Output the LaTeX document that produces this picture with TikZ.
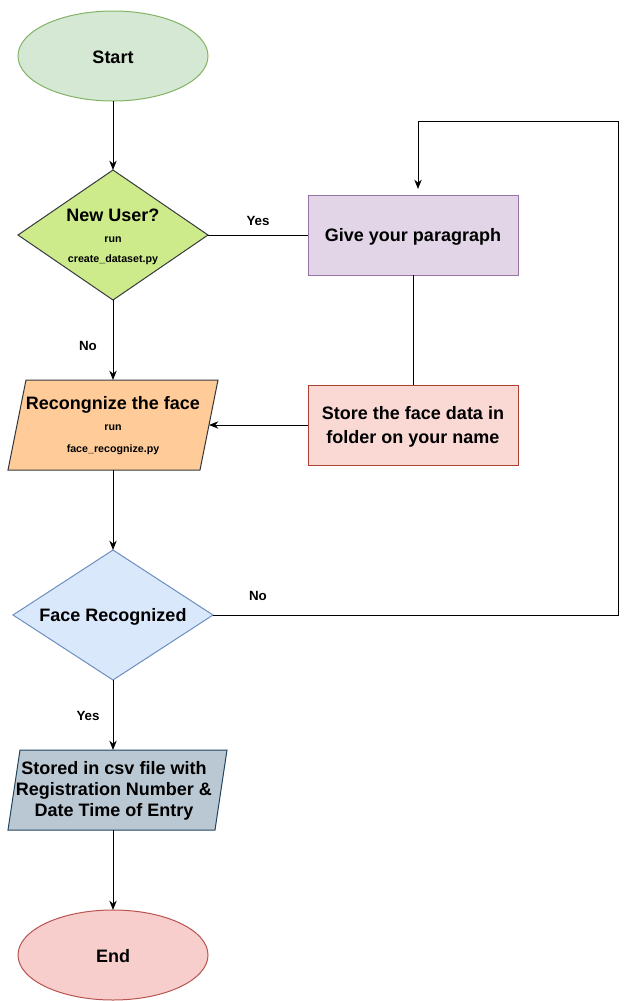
\documentclass[tikz,border=0pt]{standalone}
\usepackage{fontspec}
\setmainfont{Liberation Sans}
\usetikzlibrary{shapes.geometric,arrows.meta}
\definecolor{startF}{HTML}{D5E8D4}\definecolor{startS}{HTML}{82B366}
\definecolor{limeF}{HTML}{CDEB8B}\definecolor{grayS}{HTML}{36393D}
\definecolor{purpF}{HTML}{E1D5E7}\definecolor{purpS}{HTML}{9673A6}
\definecolor{redF}{HTML}{FAD9D5}\definecolor{redS}{HTML}{AE4132}
\definecolor{orangeF}{HTML}{FFCC99}
\definecolor{blueF}{HTML}{DAE8FC}\definecolor{blueS}{HTML}{6C8EBF}
\definecolor{slateF}{HTML}{BAC8D3}\definecolor{slateS}{HTML}{23445D}
\definecolor{endF}{HTML}{F8CECC}\definecolor{endS}{HTML}{B85450}
\begin{document}
\begin{tikzpicture}[x=0.75pt,y=-0.75pt,line width=0.75pt,
  conn/.style={draw=black,line width=0.75pt},
  arr/.style={conn,-{Stealth[length=7pt,width=5.5pt]}},
  big/.style={font=\fontsize{13.5}{17.5}\selectfont\bfseries,align=center},
  bigtight/.style={font=\fontsize{13.5}{15.5}\selectfont\bfseries,align=center},
  small/.style={font=\fontsize{8}{10}\selectfont\bfseries},
  lbl/.style={font=\fontsize{10}{12}\selectfont\bfseries},
  blank/.style={inner sep=0pt,outer sep=0pt}]
\useasboundingbox (0,0) rectangle (627,1001);
% Start
\node[ellipse,draw=startS,fill=startF,minimum width=142.5pt,minimum height=67.5pt,blank] (start) at (113,56) {};
\node[big] (startt) at (113,57) {Start};
% New user diamond
\node[diamond,draw=grayS,fill=limeF,minimum width=142.5pt,minimum height=97.5pt,blank] (nu) at (113,235) {};
\node[big] (nut) at (113,215) {New User?};
\node[small] (nur) at (113,240) {run};
\node[small] (nuc) at (113,260) {create\_dataset.py};
% Give box
\node[rectangle,draw=purpS,fill=purpF,minimum width=157.5pt,minimum height=60pt,blank] (give) at (413,235) {};
\node[big] (givet) at (413,237) {Give your paragraph};
% Store box
\node[rectangle,draw=redS,fill=redF,minimum width=157.5pt,minimum height=60pt,blank] (store) at (413,425) {};
\node[big] (storet) at (413,427) {Store the face data in\\folder on your name};
% Recognize parallelogram
\filldraw[fill=orangeF,draw=grayS] (26,380) -- (218,380) -- (200,470) -- (8,470) -- cycle;
\node[minimum width=144pt,minimum height=67.5pt,blank] (rec) at (113,425) {};
\node[big] (rect) at (113,404.5) {Recongnize the face};
\node[small] (recr) at (113,428) {run};
\node[small] (recf) at (113,450) {face\_recognize.py};
% Face recognized diamond
\node[diamond,draw=blueS,fill=blueF,minimum width=150pt,minimum height=97.5pt,blank] (fr) at (113,615) {};
\node[big] (frt) at (113,616.5) {Face Recognized};
% Stored parallelogram
\filldraw[fill=slateF,draw=slateS] (20,750) -- (227,750) -- (215,830) -- (8,830) -- cycle;
\node[minimum width=150pt,minimum height=60pt,blank] (sto) at (113,790) {};
\node[bigtight] (stot) at (114,791) {Stored in csv file with\\Registration Number \&\\Date Time of Entry};
% End
\node[ellipse,draw=endS,fill=endF,minimum width=142.5pt,minimum height=67.5pt,blank] (end) at (113,955) {};
\node[big] (endt) at (113,956) {End};
% connectors
\draw[arr] (start) -- (nu);
\draw[conn] (nu.east) -- (give.west);
\node[lbl] (yes1) at (258,221) {Yes};
\draw[conn] (give) -- (store);
\draw[arr] (store.west) -- (rec.east);
\draw[arr] (nu.south) -- (rec.north);
\node[lbl] (no1) at (88,346) {No};
\draw[arr] (rec.south) -- (fr.north);
\coordinate (c2) at (618,121);
\coordinate (c4) at (418,189);
\draw[arr] (fr.east) -| (c2) -| (c4);
\node[lbl] (no2) at (258,596) {No};
\draw[arr] (fr.south) -- (sto.north);
\node[lbl] (yes2) at (88,716) {Yes};
\draw[arr] (sto.south) -- (end.north);
\end{tikzpicture}
\end{document}
